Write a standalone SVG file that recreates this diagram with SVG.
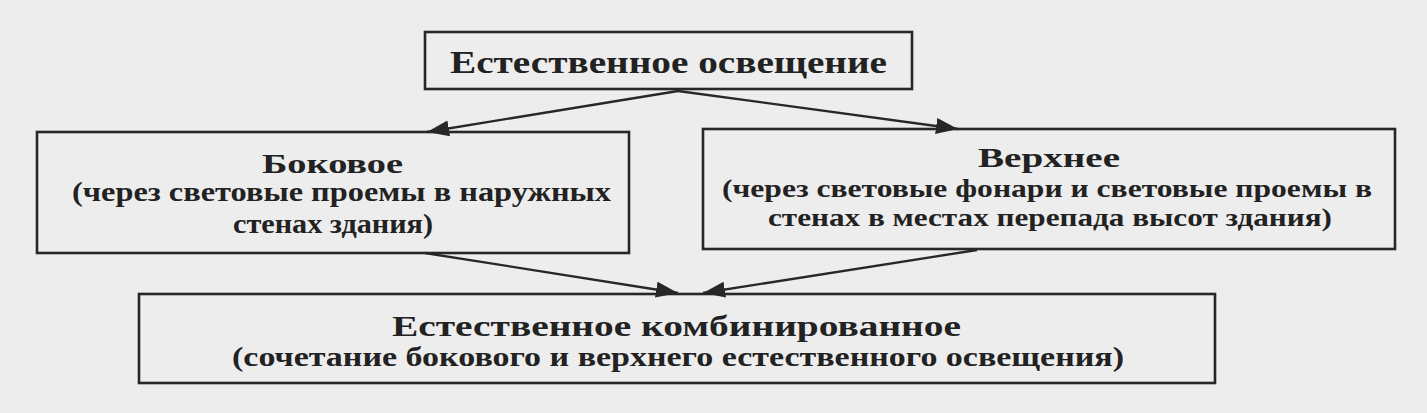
<svg xmlns="http://www.w3.org/2000/svg" width="1427" height="413" viewBox="0 0 1427 413">
<style>
.bg{fill:#ededed}
.box{fill:none;stroke:#272727;stroke-width:2.6}
.t{font-family:"Liberation Serif","Times New Roman",serif;font-weight:bold;fill:#222222}
.conn{stroke:#272727;stroke-width:2.3;fill:none}
</style>
<defs>
<marker id="ah" markerUnits="userSpaceOnUse" markerWidth="24" markerHeight="18" refX="22" refY="8" orient="auto">
<path d="M0,0 L22,8 L0,16 Z" fill="#272727"/>
</marker>
</defs>
<rect class="bg" x="0" y="0" width="1427" height="413"/>
<g id="connectors">
<line class="conn" x1="678" y1="91" x2="427" y2="132" marker-end="url(#ah)"/>
<line class="conn" x1="678" y1="91" x2="958" y2="129" marker-end="url(#ah)"/>
<line class="conn" x1="425" y1="253" x2="678" y2="293" marker-end="url(#ah)"/>
<line class="conn" x1="977" y1="250" x2="703" y2="293" marker-end="url(#ah)"/>
</g>
<g id="node-natural">
<rect class="box" x="425" y="32" width="487" height="57"/>
<text class="t" x="450" y="73" font-size="32" textLength="437" lengthAdjust="spacingAndGlyphs">Естественное освещение</text>
</g>
<g id="node-side">
<rect class="box" x="37" y="132" width="592" height="121"/>
<text class="t" x="262" y="173" font-size="28" textLength="141" lengthAdjust="spacingAndGlyphs">Боковое</text>
<text class="t" x="72" y="201" font-size="27" textLength="539" lengthAdjust="spacingAndGlyphs">(через световые проемы в наружных</text>
<text class="t" x="233" y="233" font-size="27" textLength="200" lengthAdjust="spacingAndGlyphs">стенах здания)</text>
</g>
<g id="node-top">
<rect class="box" x="703" y="129" width="692" height="120"/>
<text class="t" x="978" y="167" font-size="28" textLength="142" lengthAdjust="spacingAndGlyphs">Верхнее</text>
<text class="t" x="722" y="197" font-size="26" textLength="650" lengthAdjust="spacingAndGlyphs">(через световые фонари и световые проемы в</text>
<text class="t" x="768" y="226" font-size="26" textLength="564" lengthAdjust="spacingAndGlyphs">стенах в местах перепада высот здания)</text>
</g>
<g id="node-combined">
<rect class="box" x="139" y="294" width="1076" height="89"/>
<text class="t" x="392" y="336" font-size="29" textLength="569" lengthAdjust="spacingAndGlyphs">Естественное комбинированное</text>
<text class="t" x="232" y="366" font-size="27" textLength="892" lengthAdjust="spacingAndGlyphs">(сочетание бокового и верхнего естественного освещения)</text>
</g>
</svg>
